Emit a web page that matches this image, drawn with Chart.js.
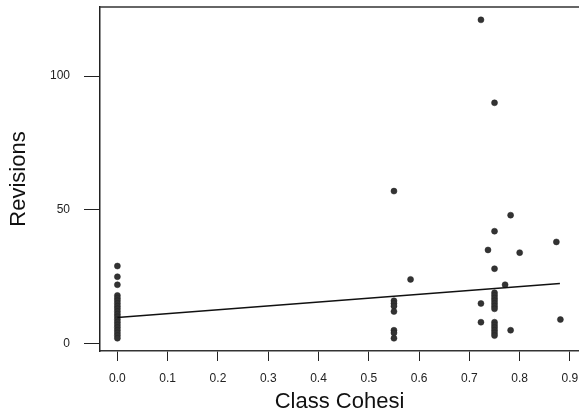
<!DOCTYPE html>
<html>
<head>
<meta charset="utf-8">
<script src="https://cdn.jsdelivr.net/npm/chart.js@4.4.1/dist/chart.umd.min.js"></script>
<style>
  html, body { margin: 0; padding: 0; background: #fff; overflow: hidden; }
  #wrap { width: 579px; height: 413px; }
</style>
</head>
<body>
<div id="wrap"><canvas id="chart" width="579" height="413"></canvas></div>
<script>
/* Revisions vs Class Cohesion scatter */
const classCohesion = [
  0, 0, 0, 0, 0, 0, 0, 0, 0, 0, 0, 0, 0, 0, 0, 0, 0, 0, 0, 0,
  0.55, 0.55, 0.55, 0.55, 0.55, 0.55, 0.55, 0.55,
  0.583,
  0.723, 0.723, 0.723,
  0.737,
  0.75, 0.75, 0.75, 0.75, 0.75, 0.75, 0.75, 0.75, 0.75, 0.75, 0.75, 0.75, 0.75, 0.75, 0.75, 0.75,
  0.771,
  0.782, 0.782,
  0.80,
  0.873,
  0.881
];
const revisions = [
  29, 25, 22, 18, 17, 16, 15, 14, 13, 12, 11, 10, 9, 8, 7, 6, 5, 4, 3, 2,
  57, 16, 15, 14, 12, 5, 4, 2,
  24,
  121, 15, 8,
  35,
  90, 42, 28, 19, 18, 17, 16, 15, 14, 13, 8, 7, 6, 5, 4, 3,
  22,
  48, 5,
  34,
  38,
  9
];
// fitted line at both ends
const fitX = [0, 0.88];
const fitY = [9.8, 22.5];

const xTicks = [0, 0.1, 0.2, 0.3, 0.4, 0.5, 0.6, 0.7, 0.8, 0.9];
const yTicks = [0, 50, 100];

const FONT = "'Liberation Sans', Arial, Helvetica, sans-serif";

const topFrame = {
  id: 'topFrame',
  afterDraw(c) {
    const { ctx, chartArea: a } = c;
    ctx.save();
    ctx.strokeStyle = '#333';
    ctx.lineWidth = 1.5;
    ctx.beginPath();
    ctx.moveTo(a.left, a.top);
    ctx.lineTo(a.right, a.top);
    ctx.stroke();
    ctx.restore();
  }
};

new Chart(document.getElementById('chart'), {
  type: 'scatter',
  data: {
    datasets: [
      {
        type: 'line',
        data: fitX.map((x, i) => ({ x: x, y: fitY[i] })),
        borderColor: '#111',
        borderWidth: 1.5,
        pointRadius: 0,
        fill: false,
        tension: 0
      },
      {
        data: classCohesion.map((x, i) => ({ x: x, y: revisions[i] })),
        backgroundColor: '#333',
        borderColor: '#222',
        borderWidth: 0.5,
        pointRadius: 3
      }
    ]
  },
  plugins: [topFrame],
  options: {
    responsive: false,
    animation: false,
    layout: { autoPadding: false, padding: { top: 7, left: 0, right: 0, bottom: 0 } },
    plugins: { legend: { display: false }, tooltip: { enabled: false } },
    scales: {
      x: {
        type: 'linear',
        min: -0.0346,
        max: 0.918,
        afterBuildTicks: s => { s.ticks = xTicks.map(v => ({ value: v })); },
        afterFit: s => { s.height = 62; s.paddingLeft = 0; s.paddingRight = 0; },
        grid: { drawOnChartArea: false, drawTicks: true, tickLength: 10, color: '#222', lineWidth: 1 },
        border: { display: true, color: '#333', width: 1.5 },
        ticks: {
          padding: 10,
          color: '#222',
          maxRotation: 0,
          font: { family: FONT, size: 12 },
          callback: v => v.toFixed(1)
        },
        title: {
          display: true,
          text: 'Class Cohesi',
          color: '#111',
          padding: 0,
          font: { family: FONT, size: 22, lineHeight: 1 }
        }
      },
      y: {
        type: 'linear',
        min: -2.76,
        max: 125.8,
        afterBuildTicks: s => { s.ticks = yTicks.map(v => ({ value: v })); },
        afterFit: s => { s.width = 100; s.paddingTop = 0; s.paddingBottom = 0; },
        grid: { drawOnChartArea: false, drawTicks: true, tickLength: 16, color: '#222', lineWidth: 1 },
        border: { display: true, color: '#222', width: 1.5 },
        ticks: {
          padding: 14,
          color: '#222',
          font: { family: FONT, size: 12 },
          callback: v => String(v)
        },
        title: {
          display: true,
          text: 'Revisions',
          color: '#111',
          padding: { top: 8, bottom: 0 },
          font: { family: FONT, size: 22, lineHeight: 1 }
        }
      }
    }
  }
});
</script>
</body>
</html>
